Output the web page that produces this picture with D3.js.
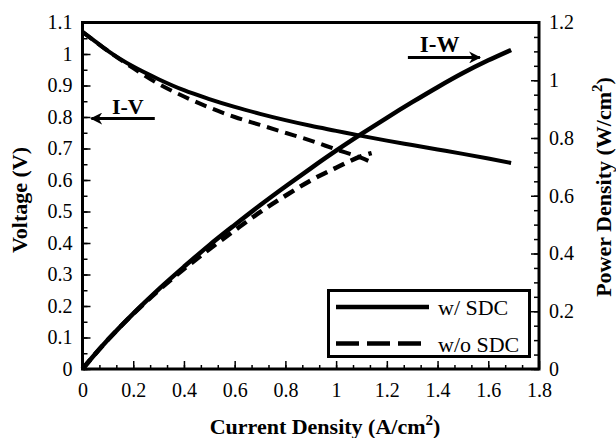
<!DOCTYPE html>
<html lang="en">
<head>
<meta charset="utf-8">
<title>I-V and I-W curves</title>
<script src="https://d3js.org/d3.v7.min.js"></script>
<style>
  body { margin: 0; background: #fff; }
  text { font-family: "Liberation Serif", "Times New Roman", serif; fill: #000; }
</style>
</head>
<body>
<div id="chart"></div>
<script>
// current density (A/cm2) and readings
var currentWith = [0, 0.05, 0.1, 0.2, 0.3, 0.4, 0.5, 0.6, 0.7, 0.8, 0.9, 1.0, 1.1, 1.2, 1.3, 1.4, 1.5, 1.6, 1.69];
var voltageWith = [1.07, 1.04, 1.01, 0.96, 0.92, 0.885, 0.857, 0.832, 0.81, 0.79, 0.772, 0.756, 0.740, 0.725, 0.711, 0.697, 0.683, 0.668, 0.654];
var powerWith   = [0, 0.052, 0.101, 0.192, 0.276, 0.354, 0.429, 0.499, 0.567, 0.632, 0.695, 0.756, 0.814, 0.870, 0.924, 0.976, 1.025, 1.069, 1.105];

var currentWithout = [0, 0.05, 0.1, 0.2, 0.3, 0.4, 0.5, 0.6, 0.7, 0.8, 0.9, 1.0, 1.1, 1.14];
var voltageWithout = [1.07, 1.04, 1.01, 0.955, 0.905, 0.865, 0.83, 0.80, 0.775, 0.75, 0.725, 0.697, 0.670, 0.656];
var powerWithout   = [0, 0.052, 0.101, 0.191, 0.272, 0.346, 0.415, 0.48, 0.543, 0.60, 0.653, 0.697, 0.737, 0.748];

var xTickLabels = [0, 0.2, 0.4, 0.6, 0.8, 1, 1.2, 1.4, 1.6, 1.8];
var yLeftTickLabels = [0, 0.1, 0.2, 0.3, 0.4, 0.5, 0.6, 0.7, 0.8, 0.9, 1, 1.1];
var yRightTickLabels = [0, 0.2, 0.4, 0.6, 0.8, 1, 1.2];
var legendNames = ['w/ SDC', 'w/o SDC'];

var w = 616, h = 438;
var mLeft = 82.5, mRight = 539, mTop = 22.5, mBottom = 369;

var svg = d3.select('#chart').append('svg')
    .attr('width', w)
    .attr('height', h);

var x = d3.scaleLinear().domain([0, 1.8]).range([mLeft, mRight]);
var yV = d3.scaleLinear().domain([0, 1.1]).range([mBottom, mTop]);
var yP = d3.scaleLinear().domain([0, 1.2]).range([mBottom, mTop]);

function fmt(d) { return String(+d.toFixed(1)); }

// minor ticks first (no labels)
svg.append('g')
    .attr('transform', 'translate(0,' + mBottom + ')')
    .call(d3.axisBottom(x).tickValues(d3.range(0, 27).map(function (i) { return i * 1.8 / 27; }))
        .tickSizeInner(-4).tickSizeOuter(0).tickFormat(''))
    .call(function (g) { g.select('.domain').remove(); });
svg.append('g')
    .attr('transform', 'translate(' + mLeft + ',0)')
    .call(d3.axisLeft(yV).tickValues(d3.range(0, 23).map(function (i) { return i * 0.05; }))
        .tickSizeInner(-5).tickSizeOuter(0).tickFormat(''))
    .call(function (g) { g.select('.domain').remove(); });
svg.append('g')
    .attr('transform', 'translate(' + mRight + ',0)')
    .call(d3.axisRight(yP).tickValues(d3.range(0, 25).map(function (i) { return i * 0.05; }))
        .tickSizeInner(-5).tickSizeOuter(0).tickFormat(''))
    .call(function (g) { g.select('.domain').remove(); });

// major ticks with labels
var xAxis = svg.append('g')
    .attr('transform', 'translate(0,' + mBottom + ')')
    .call(d3.axisBottom(x).tickValues(xTickLabels).tickSizeInner(-8).tickSizeOuter(0)
        .tickPadding(14).tickFormat(fmt));
var yAxisL = svg.append('g')
    .attr('transform', 'translate(' + mLeft + ',0)')
    .call(d3.axisLeft(yV).tickValues(yLeftTickLabels).tickSizeInner(-8).tickSizeOuter(0)
        .tickPadding(10).tickFormat(fmt));
var yAxisR = svg.append('g')
    .attr('transform', 'translate(' + mRight + ',0)')
    .call(d3.axisRight(yP).tickValues(yRightTickLabels).tickSizeInner(-8).tickSizeOuter(0)
        .tickPadding(10).tickFormat(fmt));

[xAxis, yAxisL, yAxisR].forEach(function (g) {
    g.select('.domain').remove();
    g.selectAll('text').style('font-family', '"Liberation Serif", serif').style('font-size', '20px');
});
svg.selectAll('.tick line').attr('stroke', '#000').attr('stroke-width', 1.5);

// frame
svg.append('rect')
    .attr('x', mLeft).attr('y', mTop)
    .attr('width', mRight - mLeft).attr('height', mBottom - mTop)
    .attr('fill', 'none').attr('stroke', '#000').attr('stroke-width', 3);

// curves
var lineV = d3.line().x(function (d) { return x(d[0]); }).y(function (d) { return yV(d[1]); }).curve(d3.curveMonotoneX);
var lineP = d3.line().x(function (d) { return x(d[0]); }).y(function (d) { return yP(d[1]); }).curve(d3.curveMonotoneX);

var series = [
    { cur: currentWith, v: voltageWith, p: powerWith, dash: null },
    { cur: currentWithout, v: voltageWithout, p: powerWithout, dash: '12,7' }
];

series.forEach(function (s) {
    var vPts = d3.zip(s.cur, s.v);
    var pPts = d3.zip(s.cur, s.p);
    svg.append('path').datum(vPts)
        .attr('d', lineV)
        .attr('fill', 'none').attr('stroke', '#000').attr('stroke-width', 4)
        .attr('stroke-dasharray', s.dash);
    svg.append('path').datum(pPts)
        .attr('d', lineP)
        .attr('fill', 'none').attr('stroke', '#000').attr('stroke-width', 4.5)
        .attr('stroke-dasharray', s.dash);
});

// arrow annotations
svg.append('defs').append('marker')
    .attr('id', 'head')
    .attr('viewBox', '0 0 10 10')
    .attr('refX', 9).attr('refY', 5)
    .attr('markerWidth', 4).attr('markerHeight', 4)
    .attr('markerUnits', 'strokeWidth')
    .attr('orient', 'auto')
    .append('path').attr('d', 'M0,0 L10,5 L0,10 L3,5 Z').attr('fill', '#000');

svg.append('line')
    .attr('x1', x(0.285)).attr('y1', yV(0.795))
    .attr('x2', x(0.035)).attr('y2', yV(0.795))
    .attr('stroke', '#000').attr('stroke-width', 3)
    .attr('marker-end', 'url(#head)');
svg.append('text')
    .attr('x', x(0.116)).attr('y', yV(0.808))
    .style('font-size', '22px').style('font-weight', 'bold')
    .text('I-V');

svg.append('line')
    .attr('x1', x(1.283)).attr('y1', yP(1.079))
    .attr('x2', x(1.567)).attr('y2', yP(1.079))
    .attr('stroke', '#000').attr('stroke-width', 3)
    .attr('marker-end', 'url(#head)');
svg.append('text')
    .attr('x', x(1.33)).attr('y', yP(1.098))
    .style('font-size', '23px').style('font-weight', 'bold')
    .text('I-W');

// axis titles
var xt = svg.append('text')
    .attr('x', 325).attr('y', 434)
    .attr('text-anchor', 'middle')
    .style('font-size', '22px').style('font-weight', 'bold');
xt.append('tspan').text('Current Density (A/cm');
xt.append('tspan').attr('dy', -9).style('font-size', '15px').text('2');
xt.append('tspan').attr('dy', 9).text(')');

svg.append('text')
    .attr('transform', 'translate(27,200) rotate(-90)')
    .attr('text-anchor', 'middle')
    .style('font-size', '22px').style('font-weight', 'bold')
    .text('Voltage (V)');

var rt = svg.append('text')
    .attr('transform', 'translate(611,187) rotate(-90)')
    .attr('text-anchor', 'middle')
    .style('font-size', '22px').style('font-weight', 'bold');
rt.append('tspan').text('Power Density (W/cm');
rt.append('tspan').attr('dy', -9).style('font-size', '15px').text('2');
rt.append('tspan').attr('dy', 9).text(')');

// legend
var lg = svg.append('g');
lg.append('rect')
    .attr('x', 328.5).attr('y', 290.5).attr('width', 201).attr('height', 66)
    .attr('fill', '#fff').attr('stroke', '#000').attr('stroke-width', 3);
legendNames.forEach(function (name, i) {
    var ly = 307 + i * 36.5;
    lg.append('line')
        .attr('x1', 336).attr('x2', i === 0 ? 429 : 421)
        .attr('y1', ly).attr('y2', ly)
        .attr('stroke', '#000').attr('stroke-width', 4.5)
        .attr('stroke-dasharray', i === 0 ? null : '23,8');
    lg.append('text')
        .attr('x', 438).attr('y', ly + 8)
        .style('font-size', '22px')
        .text(name);
});
</script>
</body>
</html>
